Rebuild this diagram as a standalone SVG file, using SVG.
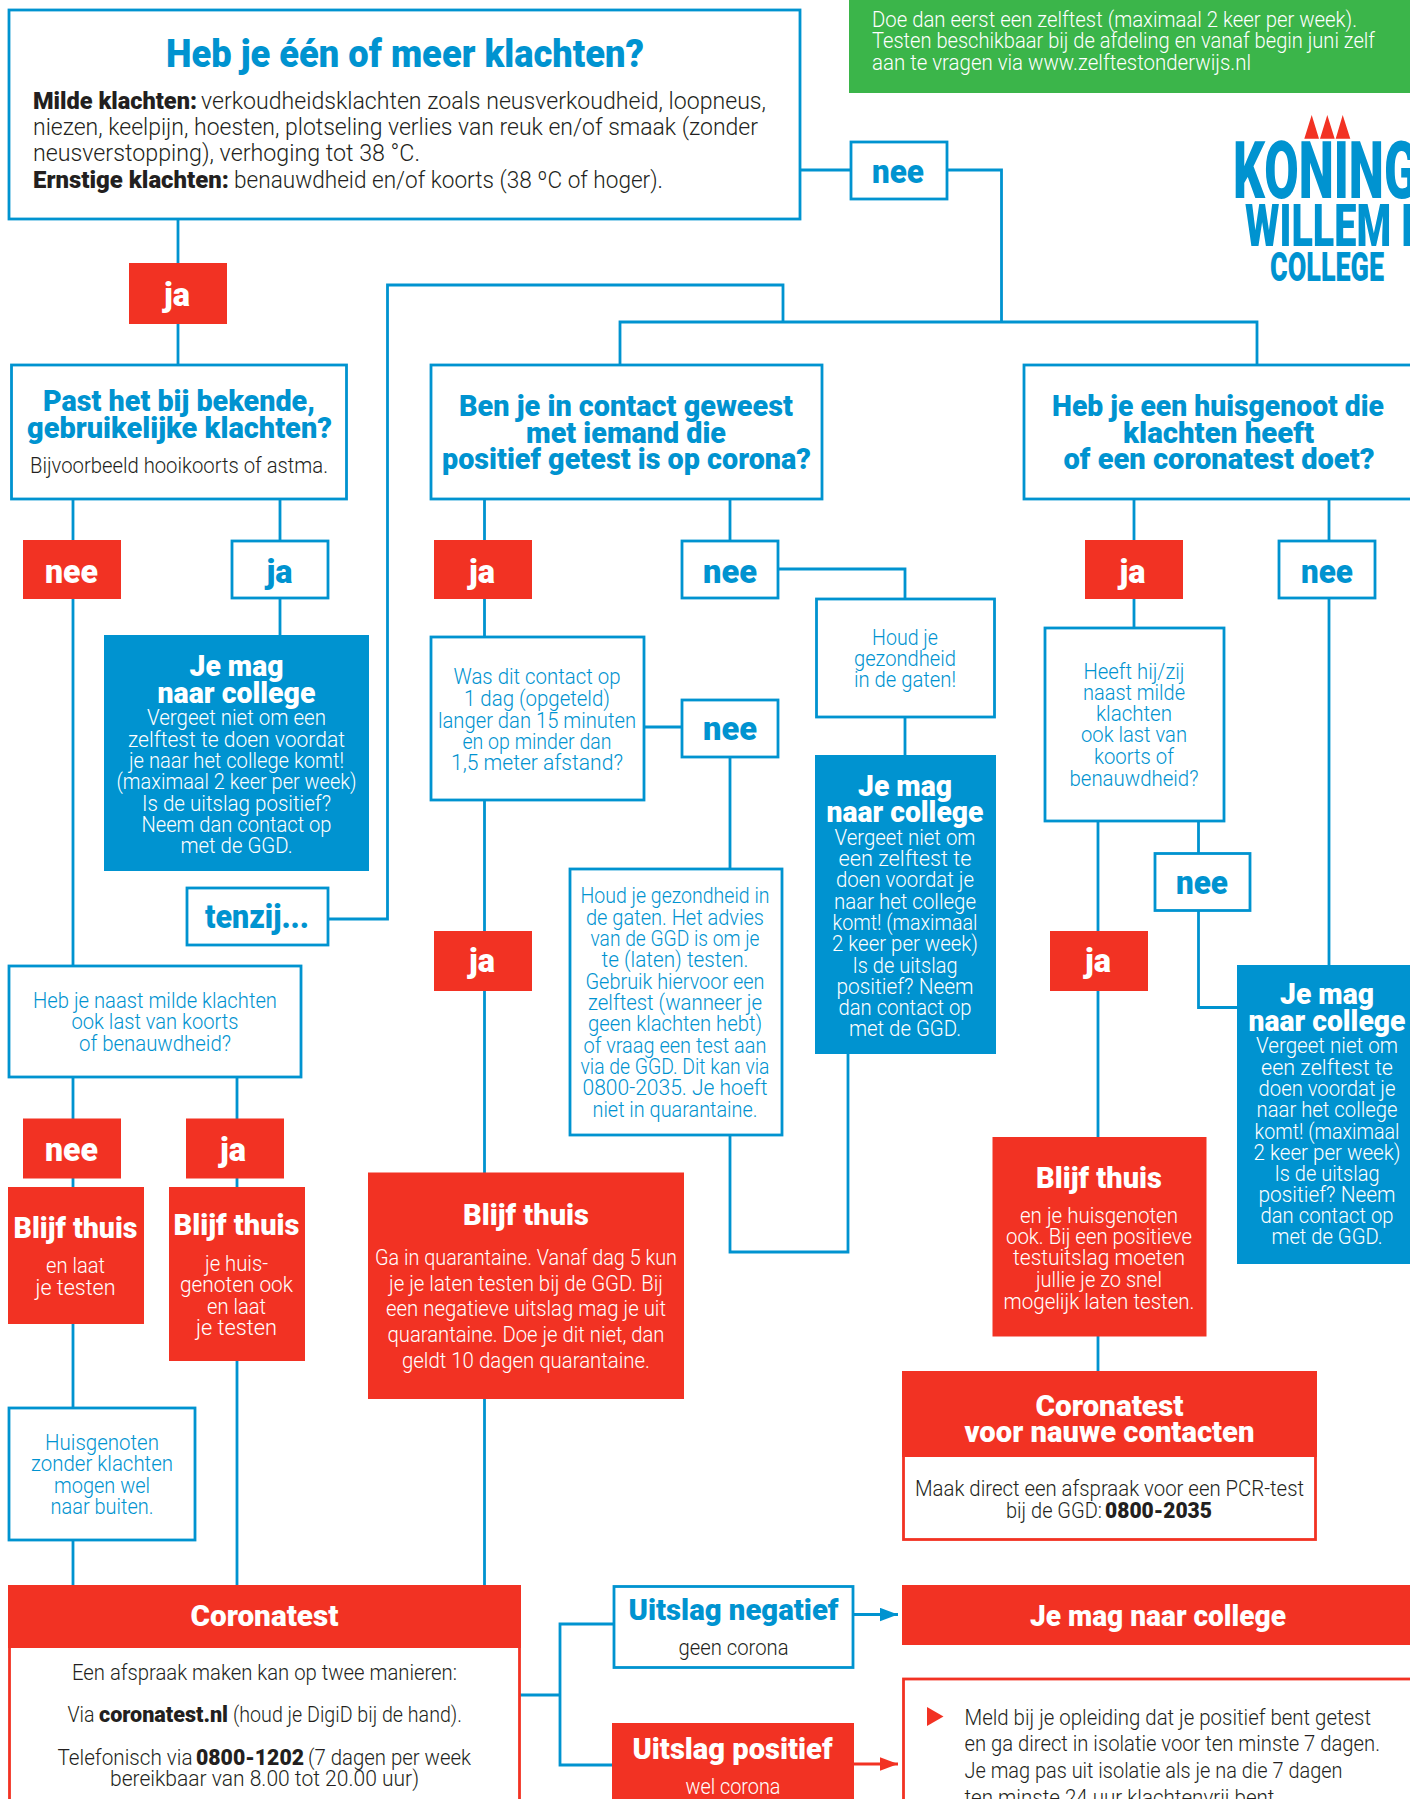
<svg xmlns="http://www.w3.org/2000/svg" width="1410" height="1799" viewBox="0 0 1410 1799">
<style>
text{font-family:Roboto,"Liberation Sans",Arial,sans-serif;text-anchor:middle;font-weight:300}
.l{text-anchor:start}
.bo{fill:#fff;stroke:#0093d0;stroke-width:2.800}
.ro{fill:#fff;stroke:#f23223;stroke-width:2.800}
.rf{fill:#f23223}
.bf{fill:#0093d0}
.gf{fill:#3bb54a}
.c{fill:none;stroke:#0093d0;stroke-width:2.800}
.t{font-size:22px}
.m{font-size:24.500px}
.x{font-weight:900}
.h{font-size:30px;font-weight:900}
.n{font-size:33px;font-weight:900}
.w{fill:#fff}
.u{fill:#0093d0}
.k{fill:#231f20}
</style>
<defs>
<marker id="ab" markerUnits="userSpaceOnUse" markerWidth="18" markerHeight="14" refX="18" refY="7" orient="auto"><path d="M0 0.300L18 7L0 13.700Z" fill="#0093d0"/></marker>
<marker id="ar" markerUnits="userSpaceOnUse" markerWidth="18" markerHeight="14" refX="18" refY="7" orient="auto"><path d="M0 0.300L18 7L0 13.700Z" fill="#f23223"/></marker>
</defs>
<rect width="1410" height="1799" fill="#fff"/>
<g id="connectors">
<path class="c" d="M800 170H1001.500V322M620 364V322H1257V364M783 322V285H387.500V919H328"/>
<path class="c" d="M178 219V364"/>
<path class="c" d="M73 499V965M280 499V635M237 1077V1187M73 1077V1585M237 1361V1585"/>
<path class="c" d="M484.500 499V636M484.500 801V1585M730 499V541M644 727H682M730 757V869"/>
<path class="c" d="M778 569H905V755M848 1054V1252H730V1135"/>
<path class="c" d="M1134 499V627M1098 821V1371M1198.500 821V1007.500H1237M1329 499V965"/>
<path class="c" d="M520 1695H560M613 1624H560V1765H613"/>
<path class="c" d="M853 1614.500H898" marker-end="url(#ab)"/>
<path class="c" d="M854 1764H898" style="stroke:#f23223" marker-end="url(#ar)"/>
</g>

<g id="intro"><rect class="bo" x="9" y="10" width="791" height="209"/>
<text class="u x" x="405" y="67" font-size="39" textLength="478" lengthAdjust="spacingAndGlyphs">Heb je één of meer klachten?</text>
<text class="l k m x" x="33" y="109" textLength="164" lengthAdjust="spacingAndGlyphs">Milde klachten:</text>
<text class="l k m" x="201" y="109" textLength="565" lengthAdjust="spacingAndGlyphs">verkoudheidsklachten zoals neusverkoudheid, loopneus,</text>
<text class="l k m" x="33" y="135" textLength="725" lengthAdjust="spacingAndGlyphs">niezen, keelpijn, hoesten, plotseling verlies van reuk en/of  smaak (zonder</text>
<text class="l k m" x="33" y="161" textLength="387" lengthAdjust="spacingAndGlyphs">neusverstopping), verhoging tot 38 °C.</text>
<text class="l k m x" x="33" y="188" textLength="196" lengthAdjust="spacingAndGlyphs">Ernstige klachten:</text>
<text class="l k m" x="234" y="188" textLength="429" lengthAdjust="spacingAndGlyphs">benauwdheid en/of koorts (38 ºC of hoger).</text>
</g>
<g id="zelftest"><rect class="gf" x="849" y="0" width="561" height="93"/>
<text class="l w t" x="872" y="27" textLength="485" lengthAdjust="spacingAndGlyphs">Doe dan eerst een zelftest (maximaal 2 keer per week).</text>
<text class="l w t" x="872" y="48" textLength="503" lengthAdjust="spacingAndGlyphs">Testen beschikbaar bij de afdeling en vanaf begin juni zelf</text>
<text class="l w t" x="872" y="70" textLength="379" lengthAdjust="spacingAndGlyphs">aan te vragen via www.zelftestonderwijs.nl</text>
</g>
<g id="logo">
<path class="rf" d="M1304.300 138.700L1311.700 115L1319 138.700ZM1320 138.700L1327.300 115L1334.700 138.700ZM1335.700 138.700L1342.700 115L1350.300 138.700Z"/>
<text class="l u x" x="1233" y="198" font-size="80" textLength="185" lengthAdjust="spacingAndGlyphs">KONING</text>
<text class="l u x" x="1245" y="246" font-size="60" textLength="168" lengthAdjust="spacingAndGlyphs">WILLEM I</text>
<text class="l u x" x="1270" y="281" font-size="41" textLength="114" lengthAdjust="spacingAndGlyphs">COLLEGE</text>
</g>
<g id="nee-top"><rect class="bo" x="851" y="142" width="96" height="57"/><text class="u n" x="898" y="182.500" textLength="52" lengthAdjust="spacingAndGlyphs">nee</text></g>
<g id="ja-top"><rect class="rf" x="129" y="263" width="98" height="61"/><text class="w n" x="177" y="306" textLength="26" lengthAdjust="spacingAndGlyphs">ja</text></g>

<g id="past"><rect class="bo" x="11.500" y="365" width="335" height="134"/>
<text class="u h" x="179" y="411" textLength="272" lengthAdjust="spacingAndGlyphs">Past het bij bekende,</text>
<text class="u h" x="179.500" y="438" textLength="305" lengthAdjust="spacingAndGlyphs">gebruikelijke klachten?</text>
<text class="k t" x="179" y="472.500" textLength="298" lengthAdjust="spacingAndGlyphs">Bijvoorbeeld hooikoorts of astma.</text></g>
<g id="contact"><rect class="bo" x="431" y="365" width="391" height="134"/>
<text class="u h" x="626" y="416" textLength="334" lengthAdjust="spacingAndGlyphs">Ben je in contact geweest</text>
<text class="u h" x="626" y="443" textLength="200" lengthAdjust="spacingAndGlyphs">met iemand die</text>
<text class="u h" x="626.500" y="469" textLength="369" lengthAdjust="spacingAndGlyphs">positief getest is op corona?</text></g>
<g id="huisgenoot"><rect class="bo" x="1024" y="365" width="392" height="134"/>
<text class="u h" x="1218" y="416" textLength="332" lengthAdjust="spacingAndGlyphs">Heb je een huisgenoot die</text>
<text class="u h" x="1218.500" y="443" textLength="191" lengthAdjust="spacingAndGlyphs">klachten heeft</text>
<text class="u h" x="1219" y="469" textLength="311" lengthAdjust="spacingAndGlyphs">of een coronatest doet?</text></g>

<g id="nee-1"><rect class="rf" x="23" y="540" width="98" height="59"/><text class="w n" x="71.500" y="582.500" textLength="53" lengthAdjust="spacingAndGlyphs">nee</text></g>
<g id="ja-1"><rect class="bo" x="232" y="541" width="96" height="57"/><text class="u n" x="279.500" y="582.500" textLength="26" lengthAdjust="spacingAndGlyphs">ja</text></g>
<g id="ja-2"><rect class="rf" x="434" y="540" width="98" height="59"/><text class="w n" x="482" y="582.500" textLength="26" lengthAdjust="spacingAndGlyphs">ja</text></g>
<g id="nee-2"><rect class="bo" x="682" y="541" width="96" height="57"/><text class="u n" x="730" y="582.500" textLength="54" lengthAdjust="spacingAndGlyphs">nee</text></g>
<g id="ja-3"><rect class="rf" x="1085" y="540" width="98" height="59"/><text class="w n" x="1132.500" y="582.500" textLength="26" lengthAdjust="spacingAndGlyphs">ja</text></g>
<g id="nee-3"><rect class="bo" x="1279" y="541" width="96" height="57"/><text class="u n" x="1327" y="582.500" textLength="52" lengthAdjust="spacingAndGlyphs">nee</text></g>

<g id="mag-1"><rect class="bf" x="104" y="635" width="265" height="236"/>
<text class="w h" x="236.500" y="676" textLength="94" lengthAdjust="spacingAndGlyphs">Je mag</text>
<text class="w h" x="236.500" y="702.500" textLength="158" lengthAdjust="spacingAndGlyphs">naar college</text>
<text class="w t" x="236.500" y="724.500" textLength="179" lengthAdjust="spacingAndGlyphs">Vergeet niet om een</text>
<text class="w t" x="236.500" y="746.500" textLength="217" lengthAdjust="spacingAndGlyphs">zelftest te doen voordat</text>
<text class="w t" x="236.500" y="767.500" textLength="215" lengthAdjust="spacingAndGlyphs">je naar het college komt!</text>
<text class="w t" x="236.500" y="788.500" textLength="240" lengthAdjust="spacingAndGlyphs">(maximaal 2 keer per week)</text>
<text class="w t" x="236.500" y="810.500" textLength="189" lengthAdjust="spacingAndGlyphs">Is de uitslag positief?</text>
<text class="w t" x="236.500" y="831.500" textLength="190" lengthAdjust="spacingAndGlyphs">Neem dan contact op</text>
<text class="w t" x="236.500" y="852.500" textLength="112" lengthAdjust="spacingAndGlyphs">met de GGD.</text></g>
<g id="tenzij"><rect class="bo" x="187" y="888" width="141" height="57"/><text class="u n" x="257" y="928" textLength="104" lengthAdjust="spacingAndGlyphs">tenzij...</text></g>

<g id="was"><rect class="bo" x="431" y="637" width="213" height="163"/>
<text class="u t" x="537" y="684" textLength="167" lengthAdjust="spacingAndGlyphs">Was dit contact op</text>
<text class="u t" x="537" y="706" textLength="146" lengthAdjust="spacingAndGlyphs">1 dag (opgeteld)</text>
<text class="u t" x="537" y="727.500" textLength="198" lengthAdjust="spacingAndGlyphs">langer dan 15 minuten</text>
<text class="u t" x="537" y="748.500" textLength="149" lengthAdjust="spacingAndGlyphs">en op minder dan</text>
<text class="u t" x="537" y="770" textLength="172" lengthAdjust="spacingAndGlyphs">1,5 meter afstand?</text></g>
<g id="nee-4"><rect class="bo" x="682" y="700" width="96" height="57"/><text class="u n" x="730" y="740" textLength="54" lengthAdjust="spacingAndGlyphs">nee</text></g>
<g id="ja-4"><rect class="rf" x="434" y="931" width="98" height="60"/><text class="w n" x="482" y="972" textLength="26" lengthAdjust="spacingAndGlyphs">ja</text></g>

<g id="houd-1"><rect class="bo" x="816.500" y="599" width="178" height="118"/>
<text class="u t" x="905" y="645" textLength="66" lengthAdjust="spacingAndGlyphs">Houd je</text>
<text class="u t" x="905" y="666" textLength="102" lengthAdjust="spacingAndGlyphs">gezondheid</text>
<text class="u t" x="905" y="687" textLength="102" lengthAdjust="spacingAndGlyphs">in de gaten!</text></g>
<g id="mag-2"><rect class="bf" x="815" y="755" width="181" height="299"/>
<text class="w h" x="905" y="796" textLength="94" lengthAdjust="spacingAndGlyphs">Je mag</text>
<text class="w h" x="905" y="822" textLength="157" lengthAdjust="spacingAndGlyphs">naar college</text>
<text class="w t" x="905" y="845" textLength="141" lengthAdjust="spacingAndGlyphs">Vergeet niet om</text>
<text class="w t" x="905" y="866" textLength="133" lengthAdjust="spacingAndGlyphs">een zelftest te</text>
<text class="w t" x="905" y="887" textLength="138" lengthAdjust="spacingAndGlyphs">doen voordat je</text>
<text class="w t" x="905" y="908.500" textLength="142" lengthAdjust="spacingAndGlyphs">naar het college</text>
<text class="w t" x="905" y="930" textLength="145" lengthAdjust="spacingAndGlyphs">komt! (maximaal</text>
<text class="w t" x="905" y="951" textLength="146" lengthAdjust="spacingAndGlyphs">2 keer per week)</text>
<text class="w t" x="905" y="973" textLength="105" lengthAdjust="spacingAndGlyphs">Is de uitslag</text>
<text class="w t" x="905" y="994" textLength="137" lengthAdjust="spacingAndGlyphs">positief? Neem</text>
<text class="w t" x="905" y="1015" textLength="133" lengthAdjust="spacingAndGlyphs">dan contact op</text>
<text class="w t" x="905" y="1036" textLength="112" lengthAdjust="spacingAndGlyphs">met de GGD.</text></g>

<g id="heeft"><rect class="bo" x="1045" y="628" width="179" height="193"/>
<text class="u t" x="1134" y="678.500" textLength="101" lengthAdjust="spacingAndGlyphs">Heeft hij/zij</text>
<text class="u t" x="1134" y="699.500" textLength="102" lengthAdjust="spacingAndGlyphs">naast milde</text>
<text class="u t" x="1134" y="720.500" textLength="76" lengthAdjust="spacingAndGlyphs">klachten</text>
<text class="u t" x="1134" y="742" textLength="106" lengthAdjust="spacingAndGlyphs">ook last van</text>
<text class="u t" x="1134" y="764" textLength="80" lengthAdjust="spacingAndGlyphs">koorts of</text>
<text class="u t" x="1134" y="785.500" textLength="129" lengthAdjust="spacingAndGlyphs">benauwdheid?</text></g>
<g id="nee-5"><rect class="bo" x="1155" y="853.500" width="95" height="57"/><text class="u n" x="1202" y="894" textLength="52" lengthAdjust="spacingAndGlyphs">nee</text></g>
<g id="ja-5"><rect class="rf" x="1050" y="931" width="98" height="60"/><text class="w n" x="1098" y="972" textLength="26" lengthAdjust="spacingAndGlyphs">ja</text></g>
<g id="mag-3"><rect class="bf" x="1237" y="965" width="173" height="299"/>
<text class="w h" x="1327" y="1004" textLength="94" lengthAdjust="spacingAndGlyphs">Je mag</text>
<text class="w h" x="1327" y="1030.500" textLength="157" lengthAdjust="spacingAndGlyphs">naar college</text>
<text class="w t" x="1327" y="1052.500" textLength="142" lengthAdjust="spacingAndGlyphs">Vergeet niet om</text>
<text class="w t" x="1327" y="1074.500" textLength="132" lengthAdjust="spacingAndGlyphs">een zelftest te</text>
<text class="w t" x="1327" y="1095.500" textLength="137" lengthAdjust="spacingAndGlyphs">doen voordat je</text>
<text class="w t" x="1327" y="1116.500" textLength="141" lengthAdjust="spacingAndGlyphs">naar het college</text>
<text class="w t" x="1327" y="1138.500" textLength="145" lengthAdjust="spacingAndGlyphs">komt! (maximaal</text>
<text class="w t" x="1327" y="1160" textLength="147" lengthAdjust="spacingAndGlyphs">2 keer per week)</text>
<text class="w t" x="1327" y="1181" textLength="105" lengthAdjust="spacingAndGlyphs">Is de uitslag</text>
<text class="w t" x="1327" y="1202" textLength="137" lengthAdjust="spacingAndGlyphs">positief? Neem</text>
<text class="w t" x="1327" y="1223" textLength="133" lengthAdjust="spacingAndGlyphs">dan contact op</text>
<text class="w t" x="1327" y="1244" textLength="111" lengthAdjust="spacingAndGlyphs">met de GGD.</text></g>

<g id="naast"><rect class="bo" x="9" y="966" width="292" height="111"/>
<text class="u t" x="155" y="1007.500" textLength="244" lengthAdjust="spacingAndGlyphs">Heb je naast milde klachten</text>
<text class="u t" x="155" y="1028.500" textLength="167" lengthAdjust="spacingAndGlyphs">ook last van koorts</text>
<text class="u t" x="155" y="1051" textLength="152" lengthAdjust="spacingAndGlyphs">of benauwdheid?</text></g>
<g id="nee-6"><rect class="rf" x="23" y="1118.500" width="98" height="60"/><text class="w n" x="71.500" y="1161" textLength="53" lengthAdjust="spacingAndGlyphs">nee</text></g>
<g id="ja-6"><rect class="rf" x="186" y="1118.500" width="98" height="60"/><text class="w n" x="233" y="1161" textLength="26" lengthAdjust="spacingAndGlyphs">ja</text></g>

<g id="houd-2"><rect class="bo" x="570" y="869" width="212" height="266"/>
<text class="u t" x="675" y="903" textLength="189" lengthAdjust="spacingAndGlyphs">Houd je gezondheid in</text>
<text class="u t" x="675" y="924.500" textLength="178" lengthAdjust="spacingAndGlyphs">de gaten. Het advies</text>
<text class="u t" x="675" y="945.500" textLength="169" lengthAdjust="spacingAndGlyphs">van de GGD is om je</text>
<text class="u t" x="675" y="966.500" textLength="147" lengthAdjust="spacingAndGlyphs">te (laten) testen.</text>
<text class="u t" x="675" y="989" textLength="179" lengthAdjust="spacingAndGlyphs">Gebruik hiervoor een</text>
<text class="u t" x="675" y="1009.500" textLength="174" lengthAdjust="spacingAndGlyphs">zelftest (wanneer je</text>
<text class="u t" x="675" y="1030.500" textLength="174" lengthAdjust="spacingAndGlyphs">geen klachten hebt)</text>
<text class="u t" x="675" y="1052.500" textLength="183" lengthAdjust="spacingAndGlyphs">of vraag een test aan</text>
<text class="u t" x="675" y="1073.500" textLength="189" lengthAdjust="spacingAndGlyphs">via de GGD. Dit kan via</text>
<text class="u t" x="675" y="1094.500" textLength="185" lengthAdjust="spacingAndGlyphs">0800-2035. Je hoeft</text>
<text class="u t" x="675" y="1116.500" textLength="165" lengthAdjust="spacingAndGlyphs">niet in quarantaine.</text></g>

<g id="thuis-1"><rect class="rf" x="8" y="1187" width="136" height="137"/>
<text class="w h" x="75.500" y="1237.500" textLength="124" lengthAdjust="spacingAndGlyphs">Blijf thuis</text>
<text class="w t" x="75.500" y="1272.500" textLength="59" lengthAdjust="spacingAndGlyphs">en laat</text>
<text class="w t" x="75.500" y="1294.500" textLength="80" lengthAdjust="spacingAndGlyphs">je testen</text></g>
<g id="thuis-2"><rect class="rf" x="169" y="1187" width="136" height="174"/>
<text class="w h" x="236.500" y="1234.500" textLength="126" lengthAdjust="spacingAndGlyphs">Blijf thuis</text>
<text class="w t" x="236.500" y="1271" textLength="63" lengthAdjust="spacingAndGlyphs">je huis-</text>
<text class="w t" x="236.500" y="1292" textLength="113" lengthAdjust="spacingAndGlyphs">genoten ook</text>
<text class="w t" x="236.500" y="1313.500" textLength="59" lengthAdjust="spacingAndGlyphs">en laat</text>
<text class="w t" x="236.500" y="1335" textLength="81" lengthAdjust="spacingAndGlyphs">je testen</text></g>
<g id="thuis-3"><rect class="rf" x="368" y="1172.500" width="316" height="226.500"/>
<text class="w h" x="526" y="1225" textLength="126" lengthAdjust="spacingAndGlyphs">Blijf thuis</text>
<text class="w t" x="526" y="1265" textLength="302" lengthAdjust="spacingAndGlyphs">Ga in quarantaine. Vanaf dag 5 kun</text>
<text class="w t" x="526" y="1291" textLength="274" lengthAdjust="spacingAndGlyphs">je je laten testen bij de GGD. Bij</text>
<text class="w t" x="526" y="1316" textLength="280" lengthAdjust="spacingAndGlyphs">een negatieve uitslag mag je uit</text>
<text class="w t" x="526" y="1342" textLength="277" lengthAdjust="spacingAndGlyphs">quarantaine. Doe je dit niet, dan</text>
<text class="w t" x="526" y="1368" textLength="248" lengthAdjust="spacingAndGlyphs">geldt 10 dagen quarantaine.</text></g>
<g id="thuis-4"><rect class="rf" x="992.500" y="1137" width="214" height="199.500"/>
<text class="w h" x="1099" y="1187.500" textLength="126" lengthAdjust="spacingAndGlyphs">Blijf thuis</text>
<text class="w t" x="1099" y="1223" textLength="158" lengthAdjust="spacingAndGlyphs">en je huisgenoten</text>
<text class="w t" x="1099" y="1244" textLength="186" lengthAdjust="spacingAndGlyphs">ook. Bij een positieve</text>
<text class="w t" x="1099" y="1265" textLength="172" lengthAdjust="spacingAndGlyphs">testuitslag moeten</text>
<text class="w t" x="1099" y="1287" textLength="126" lengthAdjust="spacingAndGlyphs">jullie je zo snel</text>
<text class="w t" x="1099" y="1309" textLength="191" lengthAdjust="spacingAndGlyphs">mogelijk laten testen.</text></g>

<g id="nauwe"><rect class="ro" x="903.500" y="1372.500" width="412" height="167"/><rect class="rf" x="902" y="1371" width="415" height="86"/>
<text class="w h" x="1109.500" y="1416" textLength="148" lengthAdjust="spacingAndGlyphs">Coronatest</text>
<text class="w h" x="1109.500" y="1442" textLength="290" lengthAdjust="spacingAndGlyphs">voor nauwe contacten</text>
<text class="k t" x="1109.500" y="1495.500" textLength="389" lengthAdjust="spacingAndGlyphs">Maak direct een afspraak voor een PCR-test</text>
<text class="k t" x="1054" y="1517.500" textLength="96" lengthAdjust="spacingAndGlyphs">bij de GGD:</text>
<text class="k t x" x="1158.500" y="1517.500" textLength="107" lengthAdjust="spacingAndGlyphs">0800-2035</text></g>

<g id="buiten"><rect class="bo" x="9" y="1408" width="186" height="132"/>
<text class="u t" x="102" y="1449.500" textLength="114" lengthAdjust="spacingAndGlyphs">Huisgenoten</text>
<text class="u t" x="102" y="1471" textLength="142" lengthAdjust="spacingAndGlyphs">zonder klachten</text>
<text class="u t" x="102" y="1493" textLength="96" lengthAdjust="spacingAndGlyphs">mogen wel</text>
<text class="u t" x="102" y="1514" textLength="103" lengthAdjust="spacingAndGlyphs">naar buiten.</text></g>

<g id="coronatest"><rect class="ro" x="9.500" y="1586.500" width="510" height="240"/><rect class="rf" x="8" y="1585" width="513" height="63"/>
<text class="w h" x="264.500" y="1626" textLength="148" lengthAdjust="spacingAndGlyphs">Coronatest</text>
<text class="k t" x="264.500" y="1679.500" textLength="385" lengthAdjust="spacingAndGlyphs">Een afspraak maken kan op twee manieren:</text>
<text class="k t" x="81" y="1722" textLength="27" lengthAdjust="spacingAndGlyphs">Via</text>
<text class="k t x" x="163.500" y="1722" textLength="129" lengthAdjust="spacingAndGlyphs">coronatest.nl</text>
<text class="k t" x="347.500" y="1722" textLength="229" lengthAdjust="spacingAndGlyphs">(houd je DigiD bij de hand).</text>
<text class="k t" x="125" y="1764.500" textLength="135" lengthAdjust="spacingAndGlyphs">Telefonisch via</text>
<text class="k t x" x="250" y="1764.500" textLength="108" lengthAdjust="spacingAndGlyphs">0800-1202</text>
<text class="k t" x="389.500" y="1764.500" textLength="163" lengthAdjust="spacingAndGlyphs">(7 dagen per week</text>
<text class="k t" x="264.500" y="1786" textLength="309" lengthAdjust="spacingAndGlyphs">bereikbaar van 8.00 tot 20.00 uur)</text></g>

<g id="negatief"><rect class="bo" x="614" y="1586.500" width="239" height="81"/>
<text class="u h" x="733.500" y="1620" textLength="210" lengthAdjust="spacingAndGlyphs">Uitslag negatief</text>
<text class="k t" x="733.500" y="1655" textLength="110" lengthAdjust="spacingAndGlyphs">geen corona</text></g>
<g id="positief"><rect class="rf" x="612" y="1723" width="242" height="80"/>
<text class="w h" x="732.500" y="1759" textLength="200" lengthAdjust="spacingAndGlyphs">Uitslag positief</text>
<text class="w t" x="733" y="1794" textLength="95" lengthAdjust="spacingAndGlyphs">wel corona</text></g>
<g id="mag-4"><rect class="rf" x="902" y="1585" width="508" height="60"/>
<text class="w h" x="1158" y="1625.500" textLength="256" lengthAdjust="spacingAndGlyphs">Je mag naar college</text></g>
<g id="isolatie"><rect class="ro" x="903.500" y="1679" width="520" height="140"/>
<path class="rf" d="M927 1707L943.500 1716.500L927 1726Z"/>
<text class="l k t" x="964.500" y="1725" textLength="406.500" lengthAdjust="spacingAndGlyphs">Meld bij je opleiding dat je positief bent getest</text>
<text class="l k t" x="964.500" y="1751" textLength="415.500" lengthAdjust="spacingAndGlyphs">en ga direct in isolatie voor ten minste 7 dagen.</text>
<text class="l k t" x="964.500" y="1778" textLength="378" lengthAdjust="spacingAndGlyphs">Je mag pas uit isolatie als je na die 7 dagen</text>
<text class="l k t" x="964.500" y="1805" textLength="310" lengthAdjust="spacingAndGlyphs">ten minste 24 uur klachtenvrij bent</text></g>
</svg>
